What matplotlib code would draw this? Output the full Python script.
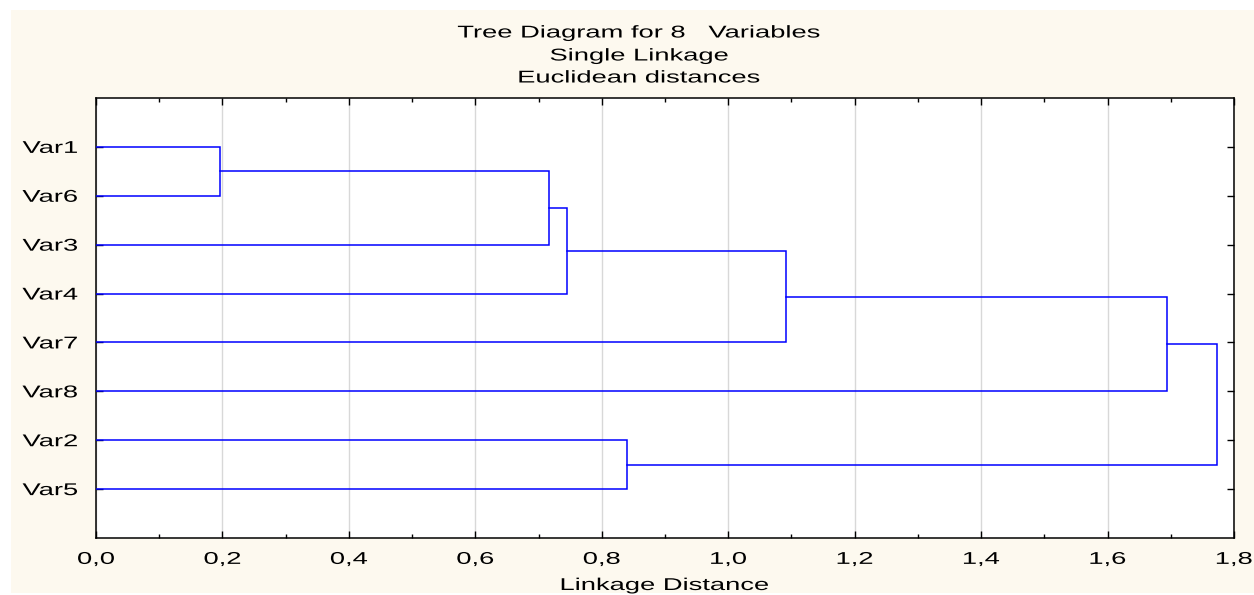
import matplotlib.pyplot as plt
import matplotlib.patches as mpatches
import matplotlib.patheffects as pe
from matplotlib.transforms import Affine2D
import numpy as np

plt.rcParams['font.family'] = ['Liberation Sans', 'DejaVu Sans']

# leaf order from top to bottom
leaves = ["Var1", "Var6", "Var3", "Var4", "Var7", "Var8", "Var2", "Var5"]
# merges: (cluster a, cluster b, linkage distance); new clusters get ids 8, 9, ...
merge_a = [0, 8, 9, 10, 11, 6, 12]
merge_b = [1, 2, 3, 4, 5, 7, 13]
merge_h = [0.196, 0.717, 0.745, 1.091, 1.694, 0.840, 1.773]
x_ticks = [0.0, 0.2, 0.4, 0.6, 0.8, 1.0, 1.2, 1.4, 1.6, 1.8]


# the original text is drawn wide, stretch glyphs horizontally
class Stretch(pe.AbstractPathEffect):
    def __init__(self, sx, anchor='center'):
        super().__init__()
        self.sx = sx
        self.anchor = anchor

    def draw_path(self, renderer, gc, tpath, affine, rgbFace=None):
        ext = tpath.get_extents()
        cx = {'left': ext.x0, 'center': (ext.x0 + ext.x1) / 2, 'right': ext.x1}[self.anchor]
        a = Affine2D().translate(-cx, 0).scale(self.sx, 1).translate(cx, 0) + affine
        renderer.draw_path(gc, tpath, a, rgbFace)


SX = 1.6
FS = 12.3

fig = plt.figure(figsize=(12.54, 5.95), dpi=100)
fig.patch.set_facecolor('white')
fig.patches.append(mpatches.Rectangle((11/1254, 2/595), 1 - 11/1254, 1 - 12/595,
                                      transform=fig.transFigure, facecolor='#FDF9EF',
                                      edgecolor='none', zorder=-10))

ax = fig.add_axes([96/1254, 57/595, 1138/1254, 440/595])
ax.set_facecolor('white')

pos = {i: i + 1 for i in range(len(leaves))}
height = {i: 0.0 for i in range(len(leaves))}
for k, (a, b, h) in enumerate(zip(merge_a, merge_b, merge_h)):
    ya, yb = pos[a], pos[b]
    ax.plot([height[a], h, h, height[b]], [ya, ya, yb, yb], color='#0000FF', lw=1.1,
            solid_joinstyle='miter', zorder=3)
    new = len(leaves) + k
    pos[new] = (ya + yb) / 2
    height[new] = h

ax.set_xlim(0, 1.8)
ax.set_ylim(len(leaves) + 1, 0)
ax.set_xticks(x_ticks)
ax.set_xticklabels([("%.1f" % t).replace('.', ',') for t in x_ticks], fontsize=FS)
ax.set_xticks(np.arange(0.1, 1.8, 0.2), minor=True)
ax.set_yticks(range(1, len(leaves) + 1))
ax.set_yticklabels(leaves, fontsize=FS)
ax.tick_params(axis='both', which='major', direction='in', length=5, width=1,
               top=True, right=True, color='black')
ax.tick_params(axis='x', which='major', pad=10)
ax.tick_params(axis='y', which='major', pad=13)
ax.tick_params(axis='x', which='minor', direction='in', length=3, width=1, top=True)
ax.grid(axis='x', which='major', color='#D8D8D8', lw=1)
ax.set_axisbelow(True)
for s in ax.spines.values():
    s.set_linewidth(1.1)
    s.set_color('black')

for t in ax.get_xticklabels():
    t.set_path_effects([Stretch(SX, 'center')])
for t in ax.get_yticklabels():
    t.set_path_effects([Stretch(SX, 'right')])

xl = ax.set_xlabel("Linkage Distance", fontsize=FS, labelpad=8)
xl.set_path_effects([Stretch(SX, 'center')])
for yy, txt in [(33, "Tree Diagram for 8   Variables"), (56, "Single Linkage"),
                (78, "Euclidean distances")]:
    fig.text(0.51, 1 - yy/595, txt, ha='center', va='center', fontsize=FS,
             path_effects=[Stretch(SX, 'center')])

fig.savefig("out.png", dpi=100, facecolor=fig.get_facecolor())
